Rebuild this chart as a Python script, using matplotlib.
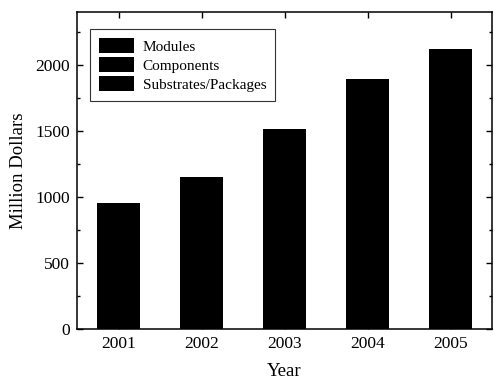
import matplotlib
matplotlib.use("Agg")
import matplotlib.pyplot as plt
from matplotlib.ticker import MultipleLocator

years = [2001, 2002, 2003, 2004, 2005]
modules = [570, 690, 900, 1130, 1270]
components = [240, 290, 380, 470, 530]
substrates = [140, 170, 230, 290, 320]
series_labels = ["Modules", "Components", "Substrates/Packages"]

plt.rcParams["font.family"] = ["Liberation Serif", "DejaVu Serif"]

fig = plt.figure(figsize=(4.94, 3.83), dpi=100)
ax = fig.add_axes([0.156, 0.141, 0.840, 0.828])

width = 0.52
ax.bar(years, modules, width, color="black", label=series_labels[0])
bottom2 = [m for m in modules]
ax.bar(years, components, width, bottom=bottom2, color="black",
       label=series_labels[1])
bottom3 = [m + c for m, c in zip(modules, components)]
ax.bar(years, substrates, width, bottom=bottom3, color="black",
       label=series_labels[2])

ax.set_xlim(2000.5, 2005.5)
ax.set_ylim(0, 2400)
ax.set_xticks(years)
ax.set_xticklabels([str(y) for y in years])
ax.yaxis.set_major_locator(MultipleLocator(500))
ax.yaxis.set_minor_locator(MultipleLocator(250))
ax.set_yticks([0, 500, 1000, 1500, 2000])

ax.tick_params(axis="both", which="major", direction="in", length=4.5,
               width=1, labelsize=12.5, top=True, right=True, pad=5)
ax.tick_params(axis="y", which="minor", direction="in", length=2.5,
               width=1, right=True)
for s in ax.spines.values():
    s.set_linewidth(1.1)

ax.set_xlabel("Year", fontsize=13.5, labelpad=8)
ax.set_ylabel("Million Dollars", fontsize=13.5, labelpad=6)

leg = ax.legend(loc="upper left", bbox_to_anchor=(0.031, 0.947), fontsize=11,
                frameon=True, fancybox=False, edgecolor="black",
                handlelength=2.3, handleheight=1.15, labelspacing=0.22,
                borderpad=0.6, handletextpad=0.55, borderaxespad=0)
leg.get_frame().set_linewidth(0.8)

fig.savefig("out.png", dpi=100)
